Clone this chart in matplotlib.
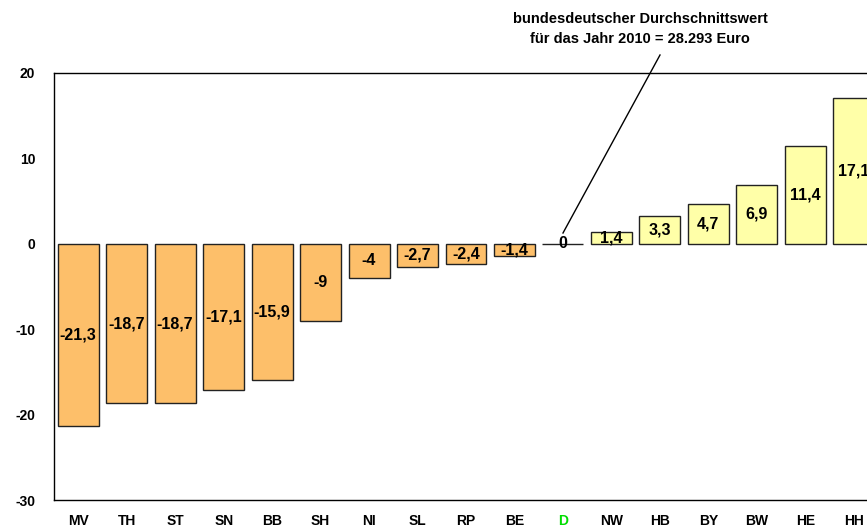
import matplotlib
matplotlib.use("Agg")
import matplotlib.pyplot as plt

categories = ["MV", "TH", "ST", "SN", "BB", "SH", "NI", "SL", "RP", "BE", "D",
              "NW", "HB", "BY", "BW", "HE", "HH"]
values = [-21.3, -18.7, -18.7, -17.1, -15.9, -9, -4, -2.7, -2.4, -1.4, 0,
          1.4, 3.3, 4.7, 6.9, 11.4, 17.1]
yticks = [-30, -20, -10, 0, 10, 20]
annotation = "bundesdeutscher Durchschnittswert\nfür das Jahr 2010 = 28.293 Euro"

plt.rcParams['font.family'] = ['Liberation Sans', 'DejaVu Sans']
plt.rcParams['font.weight'] = 'bold'

fig = plt.figure(figsize=(8.67, 5.32), dpi=100)
W, H = 867, 532
left, right, top, bottom = 54, 878, 73, 500
ax = fig.add_axes([left / W, 1 - bottom / H, (right - left) / W, (bottom - top) / H])

neg_color = "#FDBF6A"
pos_color = "#FFFFA8"
colors = [neg_color if v < 0 else pos_color for v in values]
x = list(range(len(categories)))
ax.bar(x, values, width=0.845, color=colors, edgecolor="#222222", linewidth=1.0, zorder=2)

for xi, v in zip(x, values):
    lbl = ("%g" % v).replace(".", ",")
    ax.text(xi, v / 2, lbl, ha="center", va="center", fontsize=11.5,
            fontweight="bold", zorder=3)

ax.set_xlim(-0.5, len(categories) - 0.5)
ax.set_ylim(-30, 20)
ax.set_yticks(yticks)
ax.set_yticklabels([str(t) for t in yticks], fontsize=10, fontweight="bold")
ax.set_xticks(x)
ax.set_xticklabels(categories, fontsize=10, fontweight="bold")
for lab in ax.get_xticklabels():
    if lab.get_text() == "D":
        lab.set_color("#00DD00")
ax.tick_params(axis="y", length=0, pad=13.5)
ax.tick_params(axis="x", length=0, pad=10)
for s in ax.spines.values():
    s.set_linewidth(1.0)
    s.set_color("black")

fig.text(640 / W, 1 - 29 / H, annotation, ha="center", va="center",
         fontsize=10.5, fontweight="bold", linespacing=1.55)
fig.add_artist(plt.Line2D([660 / W, 563 / W], [1 - 55 / H, 1 - 233 / H],
                          color="black", linewidth=1.0, transform=fig.transFigure))

fig.savefig("out.png", dpi=100)
